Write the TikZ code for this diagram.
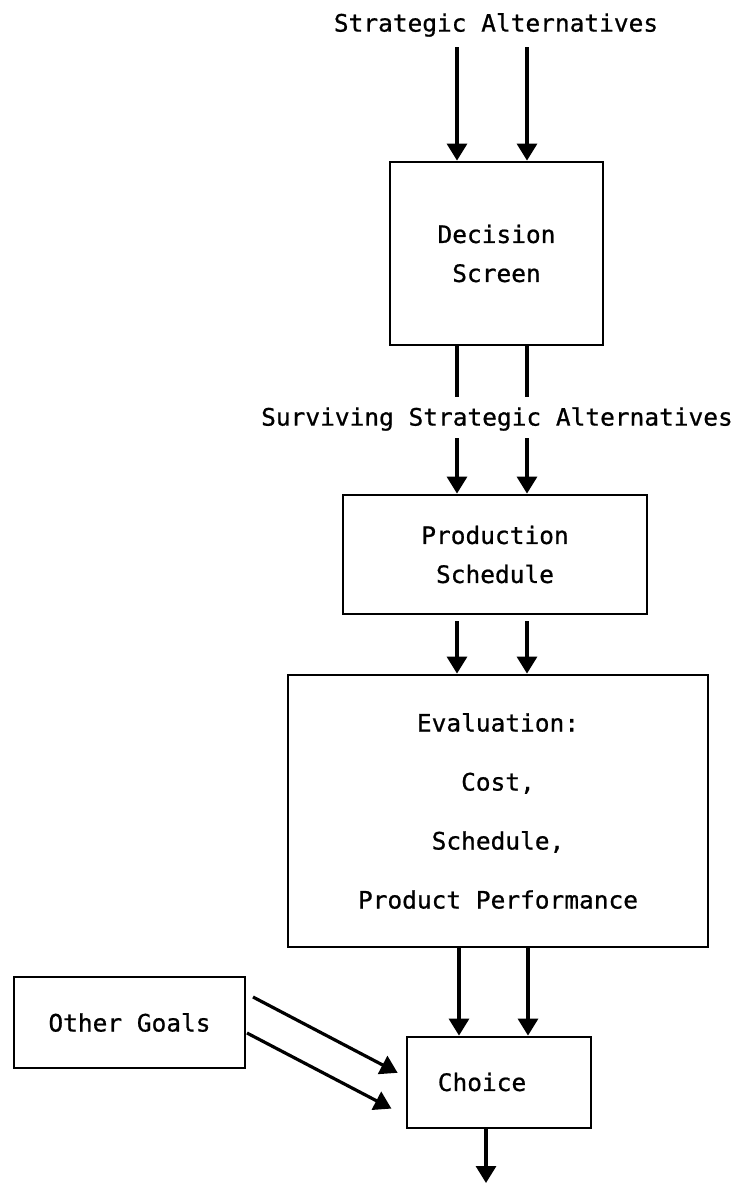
\documentclass[tikz,border=0pt]{standalone}
\usepackage{fontspec}
\newfontfamily\typewriter[FakeStretch=1.02,FakeBold=0.8]{DejaVu Sans Mono}
\usetikzlibrary{arrows.meta}
\begin{document}
\begin{tikzpicture}[x=1pt,y=-1pt,
  txt/.style={font=\typewriter\fontsize{24}{39}\selectfont, inner sep=0pt, align=center},
  box/.style={draw, line width=2.8pt, inner sep=0pt, txt},
  flow/.style={line width=3.2pt, -{Triangle[width=20pt,length=17pt]}},
  feed/.style={line width=3.2pt}]
\useasboundingbox (0,0) rectangle (741,1184);

% boxes
\node[box, minimum width=213pt, minimum height=183pt] (screen) at (496.5,253.5) {Decision\\Screen};
\node[box, minimum width=304pt, minimum height=119pt] (prod) at (495,554.5) {Production\\Schedule};
\node[box, minimum width=420pt, minimum height=272pt,
      font=\typewriter\fontsize{24}{59}\selectfont] (eval) at (498,811)
      {Evaluation:\\Cost,\\Schedule,\\Product Performance};
\node[box, minimum width=184pt, minimum height=91pt] (choice) at (499,1082.5) {};
\node[txt] (choicetxt) at (482,1082) {Choice};
\node[box, minimum width=231pt, minimum height=91pt] (goals) at (129.5,1022.5) {Other Goals};

% free labels
\node[txt] (alts) at (496,25) {Strategic Alternatives};
\node[txt] (surv) at (497,419) {Surviving Strategic Alternatives};

% column positions of the paired flows
\coordinate (colL) at (457,0);
\coordinate (colR) at (527,0);
\coordinate (colL2) at (459,0);
\coordinate (colR2) at (528,0);
\coordinate (colOut) at (486,0);

% incoming alternatives
\coordinate (inL) at (457,47);
\coordinate (inR) at (527,47);
\draw[flow] (inL) -- (screen.north -| inL);
\draw[flow] (inR) -- (screen.north -| inR);

% screen -> surviving label
\coordinate (midL) at (457,397);
\coordinate (midR) at (527,397);
\draw[feed] (screen.south -| colL) -- (midL);
\draw[feed] (screen.south -| colR) -- (midR);

% surviving label -> production schedule
\coordinate (survL) at (457,438);
\coordinate (survR) at (527,438);
\draw[flow] (survL) -- (prod.north -| survL);
\draw[flow] (survR) -- (prod.north -| survR);

% production schedule -> evaluation
\draw[flow] ([yshift=-6pt]prod.south -| colL) -- (eval.north -| colL);
\draw[flow] ([yshift=-6pt]prod.south -| colR) -- (eval.north -| colR);

% evaluation -> choice
\draw[flow] (eval.south -| colL2) -- (choice.north -| colL2);
\draw[flow] (eval.south -| colR2) -- (choice.north -| colR2);

% other goals -> choice
\coordinate (g1) at (253,997);
\coordinate (g2) at (247,1033);
\coordinate (h1) at (0,1077);
\coordinate (h2) at (0,1116);
\draw[flow, shorten >=9pt] (g1) -- (choice.west |- h1);
\draw[flow, shorten >=16pt] (g2) -- (choice.west |- h2);

% result
\coordinate (out) at (486,1183);
\draw[flow] (choice.south -| colOut) -- (out);
\end{tikzpicture}
\end{document}
